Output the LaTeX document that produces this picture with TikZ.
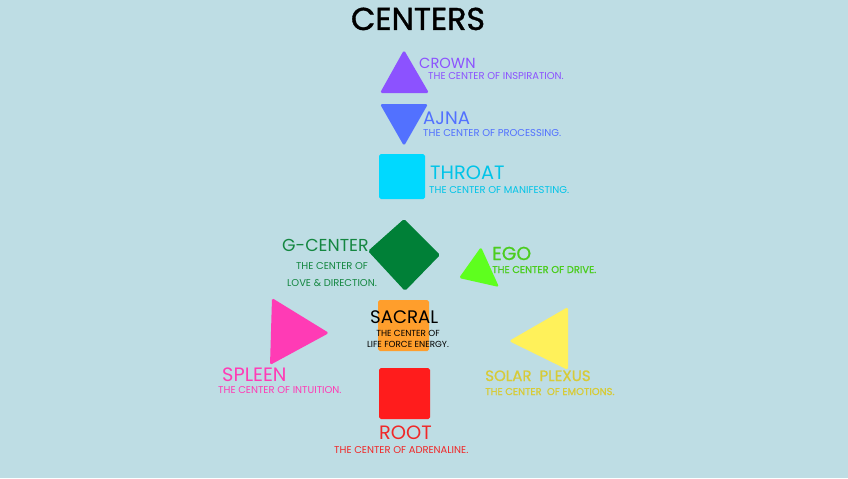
\documentclass[tikz,border=0pt]{standalone}
\usepackage{fontspec}
\setmainfont{Poppins}
\newfontfamily\subfont{Poppins}
\newfontfamily\titlefont[FakeBold=1.2]{Poppins}
\newfontfamily\outfont[FakeBold=0.8]{Poppins}
\definecolor{bgblue}{RGB}{190,221,228}
\definecolor{crown}{RGB}{140,82,255}
\definecolor{ajna}{RGB}{82,113,255}
\definecolor{throat}{RGB}{0,217,255}
\definecolor{throattext}{RGB}{0,196,232}
\definecolor{gcenter}{RGB}{0,128,55}
\definecolor{gtext}{RGB}{20,135,65}
\definecolor{ego}{RGB}{94,255,30}
\definecolor{egotext}{RGB}{75,205,30}
\definecolor{sacral}{RGB}{255,158,44}
\definecolor{spleen}{RGB}{255,59,181}
\definecolor{solar}{RGB}{255,241,90}
\definecolor{solartext}{RGB}{215,203,55}
\definecolor{root}{RGB}{255,28,28}
\definecolor{roottext}{RGB}{240,40,40}
\begin{document}
\begin{tikzpicture}[x=0.03cm,y=-0.03cm,
	lbl/.style={anchor=base west,inner sep=0pt,font=\fontsize{15}{15}\selectfont},
	sub/.style={anchor=base west,inner sep=0pt,font=\subfont\fontsize{8.5}{10.5}\selectfont},
	shp/.style={rounded corners=1.5pt}]
	\fill[bgblue] (0,0) rectangle (848,478);
	\node[anchor=base,inner sep=0pt,font=\titlefont\fontsize{27}{27}\selectfont] (title) at (418,30) {CENTERS};
	% crown and ajna
	\fill[crown,shp] (404,50)--(429,93)--(380,93)--cycle;
	\node[lbl,crown,font=\fontsize{12.5}{12.5}\selectfont] (crownlbl) at (419,69) {CROWN};
	\node[sub,crown] (crownsub) at (428,80) {THE CENTER OF INSPIRATION.};
	\fill[ajna,shp] (380,104)--(428,104)--(404,146)--cycle;
	\node[lbl,ajna,font=\fontsize{15.5}{15.5}\selectfont] (ajnalbl) at (423,124) {AJNA};
	\node[sub,ajna] (ajnasub) at (423,136) {THE CENTER OF PROCESSING.};
	% throat
	\fill[throat,shp] (379,154) rectangle (425,199);
	\node[lbl,throattext,font=\fontsize{16.5}{16.5}\selectfont] (throatlbl) at (430,179) {THROAT};
	\node[sub,throattext] (throatsub) at (429,193) {THE CENTER OF MANIFESTING.};
	% g-center
	\fill[gcenter,shp] (404,219)--(440,255)--(405,291)--(368,251)--cycle;
	\node[lbl,gtext,font=\fontsize{14.8}{14.8}\selectfont] (glbl) at (282,251) {G-CENTER};
	\node[sub,gtext,anchor=north,align=center,font=\subfont\fontsize{8.5}{15}\selectfont] (gsub) at (332,262) {THE CENTER OF\\LOVE \& DIRECTION.};
	% ego
	\fill[ego,shp] (459,278)--(481,247)--(499,287)--cycle;
	\node[lbl,egotext,font=\outfont\fontsize{16}{16}\selectfont] (egolbl) at (492,260) {EGO};
	\node[sub,egotext,font=\outfont\fontsize{8.5}{10.5}\selectfont] (egosub) at (492,273) {THE CENTER OF DRIVE.};
	% sacral
	\fill[sacral,shp] (378,300) rectangle (429,351);
	\node[lbl,black,font=\fontsize{15.5}{15.5}\selectfont] (sacrallbl) at (370,323) {SACRAL};
	\node[sub,black,anchor=north,align=center,font=\subfont\fontsize{7.5}{9.5}\selectfont] (sacralsub) at (408,330) {THE CENTER OF\\LIFE FORCE ENERGY.};
	% spleen and solar plexus
	\fill[spleen,shp] (272,298)--(329,333)--(270,365)--cycle;
	\node[lbl,spleen,font=\fontsize{16.5}{16.5}\selectfont] (spleenlbl) at (222,381) {SPLEEN};
	\node[sub,spleen] (spleensub) at (218,393) {THE CENTER OF INTUITION.};
	\fill[solar,shp] (568,307)--(568,370)--(509,341)--cycle;
	\node[lbl,solartext,font=\outfont\fontsize{12.8}{12.8}\selectfont] (solarlbl) at (485,381) {SOLAR\ \ PLEXUS};
	\node[sub,solartext,font=\outfont\fontsize{8.5}{10.5}\selectfont] (solarsub) at (485,395) {THE CENTER\ \ OF EMOTIONS.};
	% root
	\fill[root,shp] (379,368) rectangle (430,419);
	\node[lbl,roottext,font=\fontsize{16.5}{16.5}\selectfont] (rootlbl) at (379,439) {ROOT};
	\node[sub,roottext] (rootsub) at (334,453) {THE CENTER OF ADRENALINE.};
\end{tikzpicture}
\end{document}
